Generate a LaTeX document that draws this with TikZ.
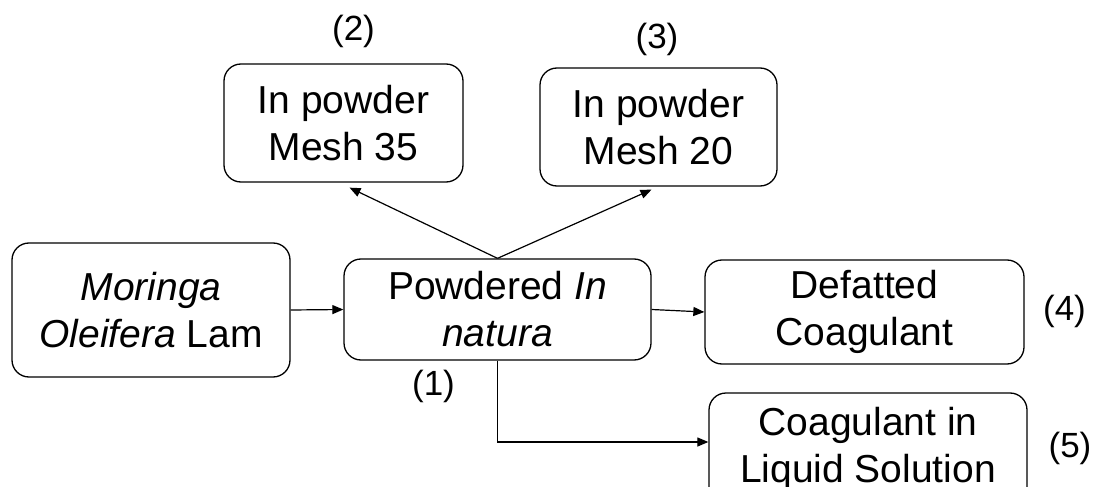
\documentclass[tikz,border=0pt]{standalone}
\usepackage{fontspec}
\setmainfont{Liberation Sans}
\usetikzlibrary{arrows.meta}
\tikzset{
  box/.style={draw, line width=1.3pt, rounded corners=17pt, align=center, inner sep=0pt,
    font=\fontsize{39}{47}\selectfont},
  lab/.style={font=\fontsize{35}{40}\selectfont, inner sep=0pt},
  arr/.style={line width=1.2pt, -{Triangle[length=11pt,width=9pt]}}
}
\begin{document}
\begin{tikzpicture}[x=1pt,y=-1pt]
\useasboundingbox (0,0) rectangle (1096,487);
\begin{scope}
\clip (0,0) rectangle (1096,487);
\node[box, minimum width=239pt, minimum height=118pt] (b2) at (343.5,123) {In powder\\Mesh 35};
\node[box, minimum width=237pt, minimum height=118pt] (b3) at (658.5,127) {In powder\\Mesh 20};
\node[box, minimum width=278pt, minimum height=134pt] (m) at (151,310) {\textit{Moringa}\\\textit{Oleifera} Lam};
\node[box, minimum width=307pt, minimum height=101pt] (p) at (497.5,309.5) {Powdered \textit{In}\\\textit{natura}};
\node[box, minimum width=319pt, minimum height=104pt] (d) at (864.5,312) {Defatted\\Coagulant};
\node[box, minimum width=318pt, minimum height=112pt] (c) at (868,449) {Coagulant in\\Liquid Solution};
\end{scope}
\node[lab] (l2) at (353.5,31) {(2)};
\node[lab] (l3) at (657,39) {(3)};
\node[lab] (l1) at (433.5,386.5) {(1)};
\node[lab] (l4) at (1064.5,311.5) {(4)};
\node[lab] (l5) at (1070,448.5) {(5)};
\coordinate (split) at (p.north);
\draw[arr] (split) -- ([xshift=6pt,yshift=-5pt]b2.south);
\draw[arr] (split) -- ([xshift=-7pt,yshift=-3pt]b3.south);
\draw[arr] (m.east) -- (p.west);
\draw[arr] (p.east) -- (d.west);
\draw[arr] (p.south) |- ([yshift=7pt]c.west);
\end{tikzpicture}
\end{document}
